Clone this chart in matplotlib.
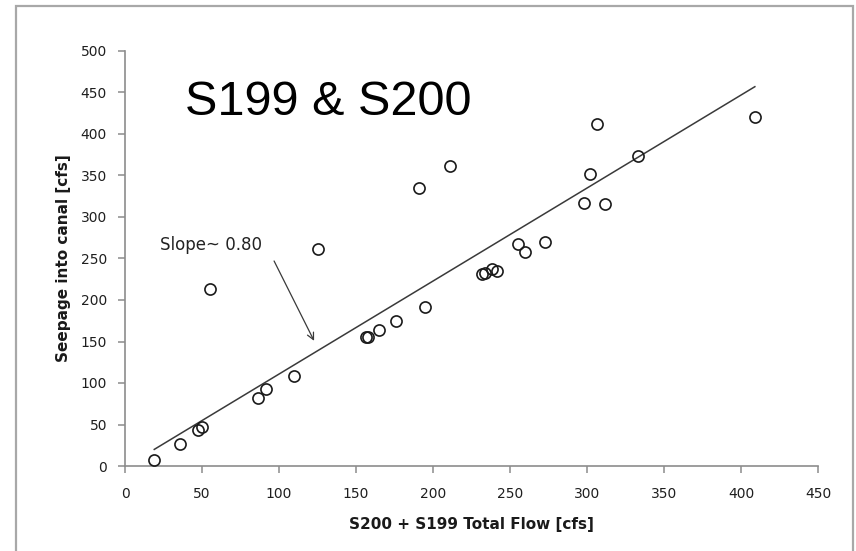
import matplotlib
matplotlib.use("Agg")
import matplotlib.pyplot as plt
from matplotlib.patches import Rectangle

# data
flow = [19, 36, 47.5, 50, 55.5, 86.5, 91.5, 110, 125.5, 156.5, 157.5, 165, 176,
        191, 195, 211, 232, 234, 238.5, 241.5, 255, 260, 272.5, 298, 302, 306.5,
        312, 333, 409]
seepage = [7, 26, 43, 47, 213, 82, 93, 108, 261, 155, 156, 164, 175,
           335, 191, 361, 231, 233, 237, 235, 268, 258, 270, 317, 352, 412,
           316, 374, 421]
trend_x = [19, 409]
trend_y = [20, 457]
x_ticks = list(range(0, 451, 50))
y_ticks = list(range(0, 501, 50))

W, H = 856, 551
fig = plt.figure(figsize=(W / 100, H / 100), dpi=100)
ax = fig.add_axes([125 / W, 1 - 466 / H, (818 - 125) / W, (466 - 51) / H])

# outer chart frame (bottom edge runs off the image)
fig.patches.append(Rectangle((16 / W, -0.05), (853 - 16) / W, 1 - 6 / H + 0.05,
                             transform=fig.transFigure, fill=False,
                             ec="#a8a8a8", lw=1.6))

ax.plot(trend_x, trend_y, color="#3a3a3a", lw=1.1, zorder=2)
ax.plot(flow, seepage, "o", ms=8, mfc="none", mec="#1a1a1a", mew=1.2, zorder=3)

ax.set_xlim(0, 450)
ax.set_ylim(0, 500)
ax.set_xticks(x_ticks)
ax.set_yticks(y_ticks)
for s in ("top", "right"):
    ax.spines[s].set_visible(False)
for s in ("left", "bottom"):
    ax.spines[s].set_color("#8c8c8c")
    ax.spines[s].set_linewidth(1.2)
ax.tick_params(axis="both", direction="out", length=5, width=1.1,
               color="#8c8c8c", labelsize=10, labelcolor="#1f1f1f")
ax.tick_params(axis="x", pad=10)
ax.tick_params(axis="y", pad=8)

ax.set_xlabel("S200 + S199 Total Flow [cfs]", fontsize=11, fontweight="bold",
              color="#1a1a1a", labelpad=12)
ax.set_ylabel("Seepage into canal [cfs]", fontsize=11, fontweight="bold",
              color="#1a1a1a", labelpad=7)

ax.text(39, 438, "S199 & S200", fontsize=35, family="Liberation Sans",
        ha="left", va="center", color="black")
ax.text(22.5, 266, "Slope~ 0.80", fontsize=12, ha="left", va="center",
        color="#222222")
ax.annotate("", xy=(123.6, 147.8), xytext=(96, 250),
            arrowprops=dict(arrowstyle="->", color="#3a3a3a", lw=0.9,
                            mutation_scale=12))

fig.savefig("out.png", dpi=100)
